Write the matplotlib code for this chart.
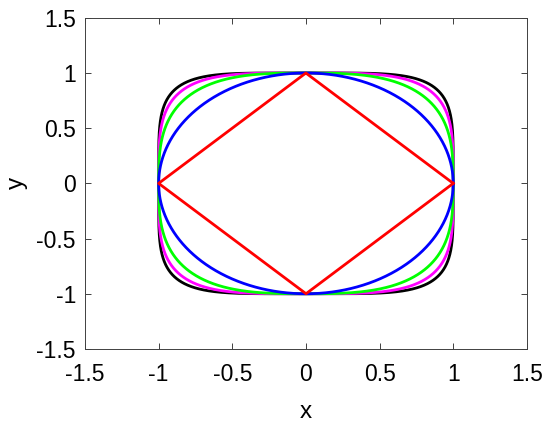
import numpy as np
import matplotlib.pyplot as plt

plt.rcParams['font.family'] = ['Liberation Sans', 'DejaVu Sans']

# superellipse |x|^p + |y|^p = 1, one curve per exponent
exponents = [5, 4, 3, 2, 1]
colors = ['black', 'magenta', '#00ff00', 'blue', 'red']
ticks = [-1.5, -1, -0.5, 0, 0.5, 1, 1.5]
tick_labels = ['-1.5', '-1', '-0.5', '0', '0.5', '1', '1.5']

fig = plt.figure(figsize=(5.5, 4.23), dpi=100)
ax = fig.add_axes([0.1545, 0.175, 0.8035, 0.783])

t = np.linspace(0, 2 * np.pi, 2000)
for p, c in zip(exponents, colors):
    x = np.sign(np.cos(t)) * np.abs(np.cos(t)) ** (2.0 / p)
    y = np.sign(np.sin(t)) * np.abs(np.sin(t)) ** (2.0 / p)
    ax.plot(x, y, color=c, linewidth=2)

ax.set_xlim(-1.5, 1.5)
ax.set_ylim(-1.5, 1.5)
ax.set_xticks(ticks)
ax.set_xticklabels(tick_labels)
ax.set_yticks(ticks)
ax.set_yticklabels(tick_labels)
ax.tick_params(direction='in', top=True, right=True, labelsize=16.5, length=4,
               width=0.7, color='#404040')
ax.tick_params(axis='x', pad=10)
ax.tick_params(axis='y', pad=6.5)
for s in ax.spines.values():
    s.set_linewidth(0.7)
    s.set_color('#404040')
ax.set_xlabel('x', fontsize=17.5, labelpad=11)
ax.set_ylabel('y', fontsize=17.5, labelpad=6)

fig.savefig('out.png', dpi=100)
